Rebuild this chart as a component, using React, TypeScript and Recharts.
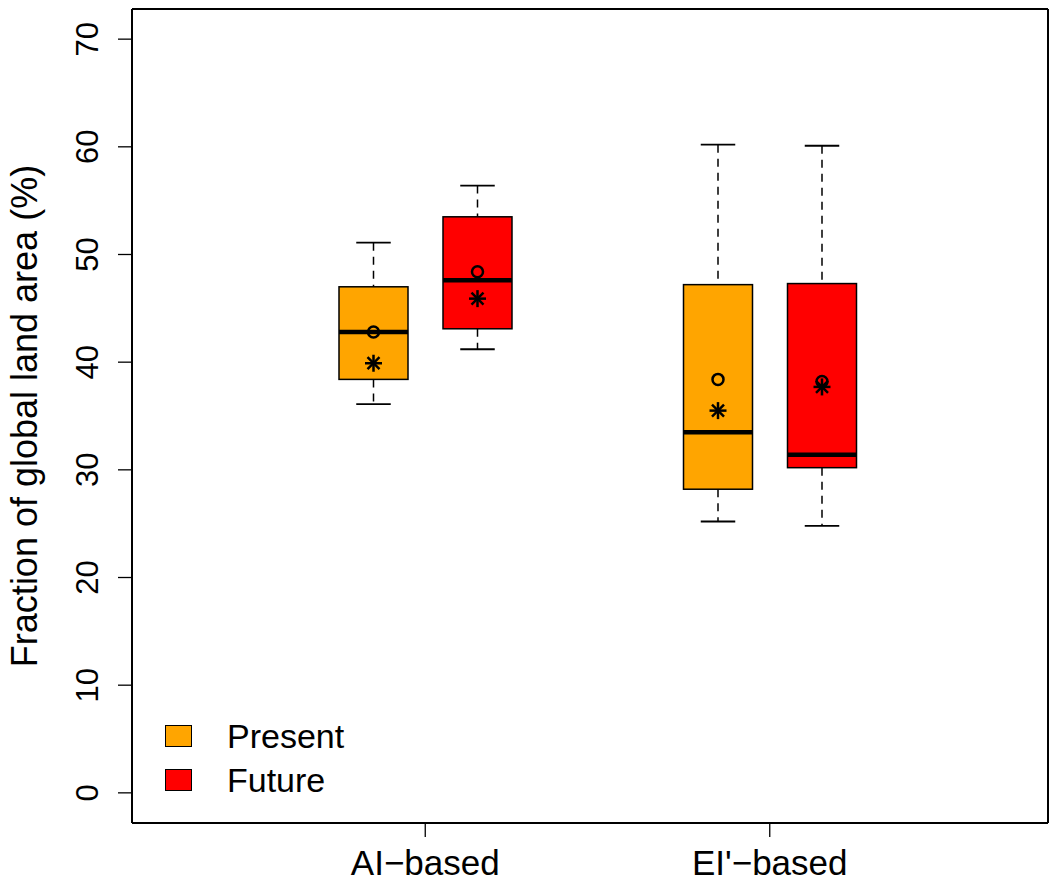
import { Bar, BarChart, Legend, XAxis, YAxis } from "recharts";

const CATEGORIES = ["AI\u2212based", "EI'\u2212based"];
const Y_TICKS = [0, 10, 20, 30, 40, 50, 60, 70];

const PRESENT_MIN = [36.1, 25.2];
const PRESENT_Q1 = [38.4, 28.2];
const PRESENT_MEDIAN = [42.8, 33.5];
const PRESENT_Q3 = [47.0, 47.2];
const PRESENT_MAX = [51.1, 60.2];
const PRESENT_MEAN = [42.8, 38.4];
const PRESENT_STAR = [39.9, 35.5];

const FUTURE_MIN = [41.2, 24.8];
const FUTURE_Q1 = [43.1, 30.2];
const FUTURE_MEDIAN = [47.6, 31.4];
const FUTURE_Q3 = [53.5, 47.3];
const FUTURE_MAX = [56.4, 60.1];
const FUTURE_MEAN = [48.4, 38.2];
const FUTURE_STAR = [45.9, 37.7];

const SERIES = [
  { key: "present", name: "Present", color: "#FFA500" },
  { key: "future", name: "Future", color: "#FF0000" },
];

const FONT = "'Liberation Sans', Arial, Helvetica, sans-serif";

const rows = CATEGORIES.map((name, i) => ({
  name,
  present: [PRESENT_MIN[i], PRESENT_MAX[i]],
  presentStats: {
    min: PRESENT_MIN[i], q1: PRESENT_Q1[i], median: PRESENT_MEDIAN[i],
    q3: PRESENT_Q3[i], max: PRESENT_MAX[i], mean: PRESENT_MEAN[i], star: PRESENT_STAR[i],
  },
  future: [FUTURE_MIN[i], FUTURE_MAX[i]],
  futureStats: {
    min: FUTURE_MIN[i], q1: FUTURE_Q1[i], median: FUTURE_MEDIAN[i],
    q3: FUTURE_Q3[i], max: FUTURE_MAX[i], mean: FUTURE_MEAN[i], star: FUTURE_STAR[i],
  },
}));

// the bar spans min..max, everything else is placed with the same pixels-per-unit
function BoxShape(props: any) {
  const { x, y, width, height, payload, statsKey, fill } = props;
  const s = payload[statsKey];
  const top = Math.min(y, y + height);
  const px = Math.abs(height) / (s.max - s.min);
  const yOf = (v: number) => top + (s.max - v) * px;
  const cx = x + width / 2;
  const cap = width / 4;
  const sy = yOf(s.star);
  return (
    <g>
      <line x1={cx} x2={cx} y1={yOf(s.max)} y2={yOf(s.q3)} stroke="#000" strokeWidth={1.5} strokeDasharray="8 6" />
      <line x1={cx} x2={cx} y1={yOf(s.q1)} y2={yOf(s.min)} stroke="#000" strokeWidth={1.5} strokeDasharray="8 6" />
      <line x1={cx - cap} x2={cx + cap} y1={yOf(s.max)} y2={yOf(s.max)} stroke="#000" strokeWidth={1.8} />
      <line x1={cx - cap} x2={cx + cap} y1={yOf(s.min)} y2={yOf(s.min)} stroke="#000" strokeWidth={1.8} />
      <rect x={x} y={yOf(s.q3)} width={width} height={yOf(s.q1) - yOf(s.q3)} fill={fill} stroke="#000" strokeWidth={1.5} />
      <line x1={x} x2={x + width} y1={yOf(s.median)} y2={yOf(s.median)} stroke="#000" strokeWidth={4.5} />
      <circle cx={cx} cy={yOf(s.mean)} r={5.5} fill="none" stroke="#000" strokeWidth={2.5} />
      <g stroke="#000" strokeWidth={2.5}>
        <line x1={cx - 8.5} x2={cx + 8.5} y1={sy} y2={sy} />
        <line x1={cx} x2={cx} y1={sy - 8.5} y2={sy + 8.5} />
        <line x1={cx - 6} x2={cx + 6} y1={sy - 6} y2={sy + 6} />
        <line x1={cx - 6} x2={cx + 6} y1={sy + 6} y2={sy - 6} />
      </g>
    </g>
  );
}

function YTick(props: any) {
  const { x, y, payload } = props;
  const tx = x - 18;
  return (
    <text x={tx} y={y} transform={`rotate(-90, ${tx}, ${y})`} textAnchor="middle" fontSize={31} fontFamily={FONT} fill="#000">
      {payload.value}
    </text>
  );
}

function XTick(props: any) {
  const { x, y, payload } = props;
  return (
    <text x={x} y={y + 36} textAnchor="middle" fontSize={35} fontFamily={FONT} fill="#000">
      {payload.value}
    </text>
  );
}

function LegendBox() {
  return (
    <div style={{ fontFamily: FONT, fontSize: 34, lineHeight: "44px", color: "#000" }}>
      {SERIES.map((s) => (
        <div key={s.key} style={{ display: "flex", alignItems: "center" }}>
          <span style={{ width: 27, height: 22, boxSizing: "border-box", border: "1px solid #000", background: s.color, marginRight: 35 }} />
          <span>{s.name}</span>
        </div>
      ))}
    </div>
  );
}

export default function App() {
  return (
    <div style={{ position: "absolute", left: 0, top: 0, background: "#fff" }}>
      <BarChart
        width={1051}
        height={884}
        data={rows}
        margin={{ top: 8, right: 2, left: 0, bottom: 0 }}
        barSize={69}
        barGap={35}
      >
        <XAxis
          dataKey="name"
          height={61}
          padding={{ left: 121, right: 106 }}
          tickSize={14}
          axisLine={{ stroke: "#000", strokeWidth: 2 }}
          tickLine={{ stroke: "#000", strokeWidth: 1.3 }}
          tick={<XTick />}
          interval={0}
        />
        <XAxis
          xAxisId="top"
          orientation="top"
          dataKey="name"
          height={1}
          tick={false}
          tickLine={false}
          axisLine={{ stroke: "#000", strokeWidth: 2 }}
        />
        <YAxis
          width={132}
          domain={[-2.8, 72.8]}
          allowDataOverflow
          ticks={Y_TICKS}
          interval={0}
          tickSize={14}
          axisLine={{ stroke: "#000", strokeWidth: 2 }}
          tickLine={{ stroke: "#000", strokeWidth: 1.3 }}
          tick={<YTick />}
          label={{
            value: "Fraction of global land area (%)",
            position: "insideLeft",
            content: ({ viewBox }: any) => {
              const cy = viewBox.y + viewBox.height / 2;
              return (
                <text x={37} y={cy} transform={`rotate(-90, 37, ${cy})`} textAnchor="middle" fontSize={36} fontFamily={FONT} fill="#000">
                  Fraction of global land area (%)
                </text>
              );
            },
          }}
        />
        <YAxis
          yAxisId="right"
          orientation="right"
          width={1}
          domain={[0, 1]}
          tick={false}
          tickLine={false}
          axisLine={{ stroke: "#000", strokeWidth: 2 }}
        />
        <Legend
          layout="vertical"
          align="center"
          verticalAlign="middle"
          wrapperStyle={{ left: 165, top: 714, width: "auto" }}
          content={() => <LegendBox />}
        />
        {SERIES.map((s) => (
          <Bar
            key={s.key}
            dataKey={s.key}
            name={s.name}
            fill={s.color}
            isAnimationActive={false}
            shape={(p: any) => <BoxShape {...p} statsKey={`${s.key}Stats`} fill={s.color} />}
          />
        ))}
      </BarChart>
    </div>
  );
}
